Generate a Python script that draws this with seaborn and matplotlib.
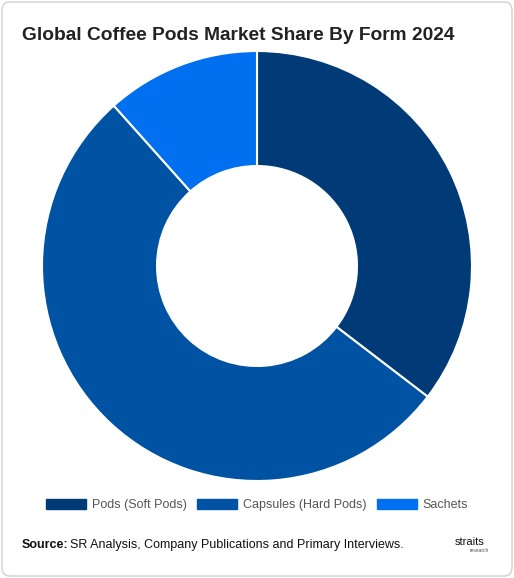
import matplotlib
matplotlib.use("Agg")
import matplotlib.pyplot as plt
import seaborn as sns
from matplotlib.patches import FancyBboxPatch, Rectangle

sns.set_theme(style="white")
plt.rcParams['font.family'] = ['Liberation Sans', 'DejaVu Sans']

categories = ["Pods (Soft Pods)", "Capsules (Hard Pods)", "Sachets"]
values = [35.4, 53.0, 11.6]
colors = ["#003b78", "#0052a3", "#0070f0"]

W, H = 514, 578
fig = plt.figure(figsize=(W/100, H/100), dpi=100)
fig.patch.set_facecolor("white")
fig.patches.append(FancyBboxPatch((2/W, 2/H), 1-4/W, 1-4/H, boxstyle="round,pad=0,rounding_size=0.015",
                                  transform=fig.transFigure, fill=False, edgecolor="#d0d0d0", lw=1))

r = 215
ax = fig.add_axes([(257-r)/W, (H-266-r)/H, 2*r/W, 2*r/H])
wedges, _ = ax.pie(values, colors=colors, startangle=90, counterclock=False,
                   wedgeprops=dict(width=0.535, edgecolor="white", linewidth=1.5))
ax.set_xlim(-1, 1)
ax.set_ylim(-1, 1)
ax.set_aspect("equal")
ax.axis("off")

fig.text(22/W, 1-35/H, "Global Coffee Pods Market Share By Form 2024", fontsize=13.8,
         fontweight="bold", color="#222222", va="center", ha="left")

handles = [Rectangle((0, 0), 1, 1, color=c) for c in colors]
fig.legend(handles, categories, loc="center", bbox_to_anchor=(257/W, 1-505/H), ncol=3,
           frameon=False, fontsize=9, handlelength=3.2, handleheight=0.9, columnspacing=0.8,
           handletextpad=0.5, labelcolor="#555555")

fig.text(22/W, 1-545/H, "Source:", fontsize=9, fontweight="bold", color="#111111", va="center")
fig.text(70/W, 1-545/H, "SR Analysis, Company Publications and Primary Interviews.", fontsize=9,
         color="#111111", va="center")
fig.text(455/W, 1-542/H, "straits", fontsize=8, color="#111111", va="center")
fig.text(470/W, 1-551/H, "research", fontsize=3.5, color="#555555", va="center")

fig.savefig("out.png", dpi=100)
